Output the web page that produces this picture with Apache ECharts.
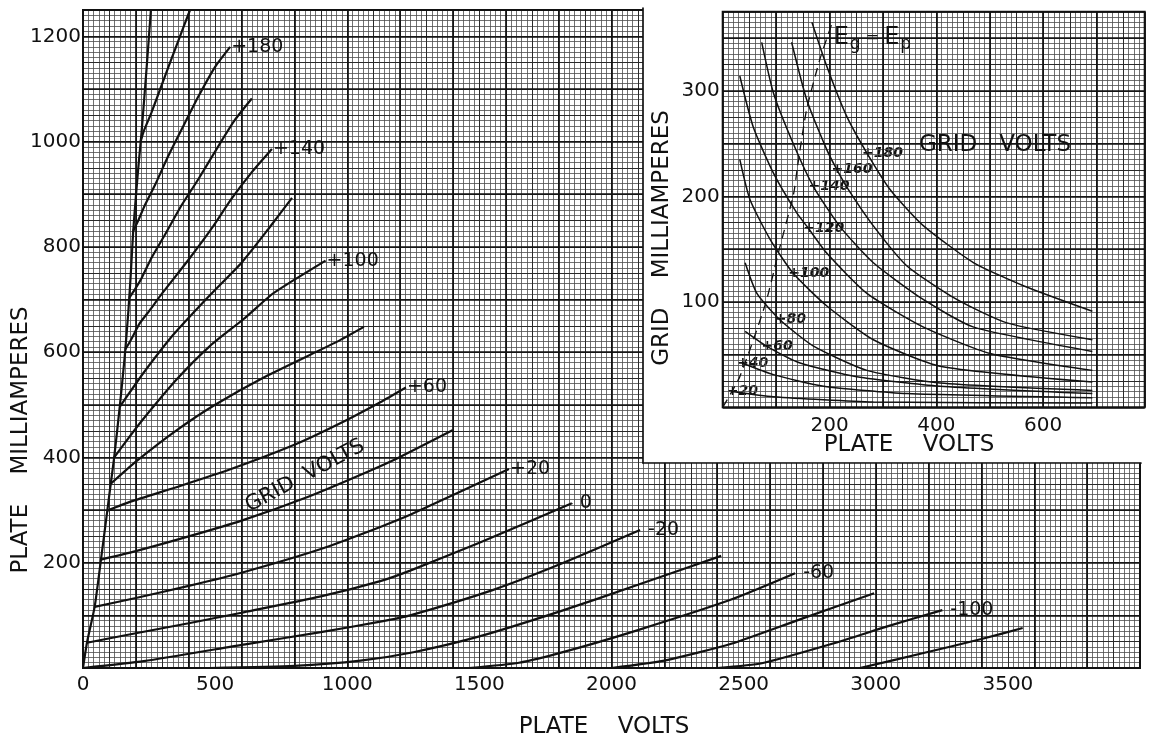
<!DOCTYPE html>
<html>
<head>
<meta charset="utf-8">
<title>Plate characteristics</title>
<script src="https://cdn.jsdelivr.net/npm/echarts@6.0.0/dist/echarts.min.js"></script>
<style>
  html, body { margin: 0; padding: 0; background: #fff; }
  #chart { width: 1149px; height: 738px; }
</style>
</head>
<body>
<div id="chart"></div>
<script>
// main sheet: [plate volts, plate milliamperes]
const locus = [[0,0],[15,48],[44,116],[68,206],[92,299],[105,350],[118,400],[139,496],[158,592],[172,680],[181,750],[190,830],[200,895],[211,960],[222,1020],[241,1142],[257,1250]];
const eg200 = [[218,1000],[230,1020],[259,1055],[310,1124],[361,1192],[405,1250]];
const eg180 = [[190,830],[209,850],[234,879],[272,917],[323,973],[373,1023],[437,1086],[500,1142],[557,1180]];
const eg160 = [[175,703],[200,722],[222,741],[259,779],[310,823],[373,879],[437,929],[513,992],[576,1042],[639,1082]];
const eg140 = [[160,605],[180,622],[215,655],[253,680],[300,712],[400,776],[487,835],[563,892],[639,942],[715,986]];
const eg120 = [[139,496],[165,515],[228,560],[340,632],[480,708],[600,770],[700,833],[791,893]];
const eg100 = [[118,400],[165,432],[228,473],[354,548],[481,612],[608,663],[715,710],[785,733],[918,774]];
const eg80 = [[105,350],[200,392],[350,450],[500,500],[700,556],[962,620],[1063,648]];
const eg60 = [[92,299],[180,316],[350,343],[550,376],[800,424],[962,462],[1125,505],[1222,533]];
const eg40 = [[68,206],[200,222],[400,250],[600,280],[850,325],[1073,372],[1200,401],[1400,452]];
const eg20 = [[44,116],[200,133],[400,156],[600,181],[900,226],[1125,268],[1238,291],[1612,378]];
const eg0 = [[15,48],[200,66],[400,85],[600,105],[900,136],[1125,165],[1238,185],[1500,238],[1850,313]];
const egm20 = [[0,0],[230,13],[614,45],[900,68],[1125,88],[1238,100],[1550,148],[1800,196],[2108,262]];
const egm40 = [[480,0],[800,4],[1050,14],[1250,30],[1500,60],[1808,108],[2100,158],[2415,213]];
const egm60 = [[1460,0],[1650,10],[1830,32],[2100,72],[2453,130],[2695,180]];
const egm80 = [[2000,0],[2200,14],[2453,46],[2700,90],[2994,142]];
const egm100 = [[2400,0],[2569,9],[2835,46],[3050,80],[3252,110]];
const egm120 = [[2940,0],[3177,28],[3400,55],[3556,76]];
const mainLabeled = ['+180', '+140', '+100', '+60', '+20', '0', '-20', '-60', '-100'];

// inset: [plate volts, grid milliamperes]
const ieq = [[0,0],[32,29],[80,98],[105,148],[133,203],[140,228],[157,282],[182,330],[204,363]];
const i180 = [[167,365],[195,323],[232,276],[270,241],[314,206],[376,172],[470,137],[564,115],[692,91]];
const i160 = [[129,346],[157,292],[195,244],[213,226],[232,209],[282,172],[345,134],[439,102],[532,80],[692,64]];
const i140 = [[73,346],[95,298],[132,250],[170,209],[220,171],[282,137],[376,102],[470,76],[692,53]];
const i120 = [[32,314],[57,266],[95,222],[139,184],[160,170],[195,146],[270,108],[376,76],[501,51],[692,35]];
const i100 = [[32,235],[51,197],[89,159],[132,127],[195,96],[282,64],[407,39],[692,24]];
const i80 = [[42,137],[64,108],[107,83],[170,58],[270,35],[407,23],[692,16]];
const i60 = [[42,72],[82,58],[145,42],[251,29],[407,20],[692,13]];
const i40 = [[36,42],[95,31],[189,20],[345,13],[692,9]];
const i20 = [[17,15],[95,10],[282,5],[692,4]];

const FONT = 'DejaVu Sans';
const INK = '#111';
const fine = { color: '#4d4d4d', width: 0.8 };
const med = { color: '#2a2a2a', width: 1 };
const heavy = { color: '#111', width: 1.7 };

const mainRect = { left: 83, top: 10, right: 9, bottom: 70 };
const insetRect = { left: 722.7, top: 11.7, right: 4.3, bottom: 330.7 };

function paperAxis(gridIndex, max, interval, line, z) {
  return {
    type: 'value', gridIndex, min: 0, max, interval, z,
    axisLine: { show: false }, axisTick: { show: false }, axisLabel: { show: false },
    splitLine: { show: true, lineStyle: line }
  };
}
function labelAxis(gridIndex, max, interval, margin, z) {
  return {
    type: 'value', gridIndex, min: 0, max, interval, z,
    axisLine: { show: false }, axisTick: { show: false }, splitLine: { show: false },
    axisLabel: {
      margin, color: INK, fontSize: 20, fontFamily: FONT, showMaxLabel: false,
      formatter: v => String(v)
    }
  };
}
function bareAxis(gridIndex, pos, z) {
  return {
    type: 'value', gridIndex, min: 0, max: 1, position: pos, z,
    axisLine: { show: true, lineStyle: { color: INK, width: 1.7 } },
    axisTick: { show: false }, axisLabel: { show: false }, splitLine: { show: false }
  };
}

const grids = [
  Object.assign({ show: true, backgroundColor: 'transparent', borderColor: INK, borderWidth: 2, z: 3 }, mainRect),
  Object.assign({ z: 0 }, mainRect),
  Object.assign({ z: 1 }, mainRect),
  Object.assign({ z: 2 }, mainRect),
  { left: 643, top: 8, right: 8, bottom: 275.3, show: true, backgroundColor: '#fff', borderWidth: 0, z: 4 },
  Object.assign({ show: true, backgroundColor: 'transparent', borderColor: INK, borderWidth: 2, z: 9 }, insetRect),
  Object.assign({ z: 6 }, insetRect),
  Object.assign({ z: 7 }, insetRect),
  Object.assign({ z: 8 }, insetRect)
].map(g => Object.assign({ outerBoundsMode: 'none' }, g));

const xMain = labelAxis(0, 4000, 500, 7, 3);
xMain.axisLabel.showMinLabel = true;
const yMain = labelAxis(0, 1250, 200, 2, 3);
yMain.axisLabel.showMinLabel = false;
const xIn = labelAxis(5, 790, 200, 8, 9);
xIn.axisLabel.showMinLabel = false;
const yIn = labelAxis(5, 375, 100, 3, 9);
yIn.axisLabel.showMinLabel = false;

const xAxes = [
  xMain,
  paperAxis(1, 4000, 20, fine, 0),
  paperAxis(2, 4000, 100, med, 1),
  paperAxis(3, 4000, 200, heavy, 2),
  bareAxis(4, 'bottom', 5),
  xIn,
  paperAxis(6, 790, 10, fine, 6),
  paperAxis(7, 790, 50, med, 7),
  paperAxis(8, 790, 100, heavy, 8)
];
const yAxes = [
  yMain,
  paperAxis(1, 1250, 10, fine, 0),
  paperAxis(2, 1250, 50, med, 1),
  paperAxis(3, 1250, 100, heavy, 2),
  bareAxis(4, 'left', 5),
  yIn,
  paperAxis(6, 375, 5, fine, 6),
  paperAxis(7, 375, 25, med, 7),
  paperAxis(8, 375, 50, heavy, 8)
];

const mainCurves = [
  ['locus', locus], ['+200', eg200], ['+180', eg180], ['+160', eg160], ['+140', eg140],
  ['+120', eg120], ['+100', eg100], ['+80', eg80], ['+60', eg60], ['+40', eg40],
  ['+20', eg20], ['0', eg0], ['-20', egm20], ['-40', egm40], ['-60', egm60],
  ['-80', egm80], ['-100', egm100], ['-120', egm120]
];
// third entry: which point carries the label
const insetCurves = [
  ['+180', i180, 3], ['+160', i160, 3], ['+140', i140, 3], ['+120', i120, 4], ['+100', i100, 3],
  ['+80', i80, 2], ['+60', i60, 1], ['+40', i40, 0], ['+20', i20, 0]
];

const series = [];
mainCurves.forEach(([name, pts]) => {
  const s = {
    type: 'line', name, data: pts, xAxisIndex: 0, yAxisIndex: 0,
    symbol: 'none', showSymbol: false, smooth: 0.2, silent: true, z: 10,
    lineStyle: { color: INK, width: 2.2 }
  };
  if (mainLabeled.includes(name)) {
    s.endLabel = {
      show: true, formatter: name, distance: name[0] === '+' ? 1 : 8,
      color: INK, fontSize: 19, fontFamily: FONT
    };
  }
  series.push(s);
});
insetCurves.forEach(([name, pts, at]) => {
  series.push({
    type: 'line', name: 'g' + name, data: pts, xAxisIndex: 5, yAxisIndex: 5,
    symbol: 'none', showSymbol: false, smooth: 0.2, silent: true, z: 11,
    lineStyle: { color: INK, width: 1.5 },
    markPoint: {
      symbol: 'circle', symbolSize: 0, silent: true,
      data: [{ coord: pts[at] }],
      label: {
        show: true, formatter: name, position: 'inside', align: 'left', verticalAlign: 'middle',
        offset: [-5, 0], color: INK, fontSize: 14, fontWeight: 'bold', fontStyle: 'italic', fontFamily: FONT
      }
    }
  });
});
series.push({
  type: 'line', name: 'Eg=Ep', data: ieq, xAxisIndex: 5, yAxisIndex: 5,
  symbol: 'none', showSymbol: false, smooth: 0.2, silent: true, z: 11,
  lineStyle: { color: INK, width: 1.3, type: [9, 6] },
  endLabel: {
    show: true, distance: 2, offset: [0, 13], color: INK, fontFamily: FONT,
    formatter: '{e|E}{s|g}{q| = }{e|E}{s|p}',
    rich: {
      e: { fontSize: 24, fontFamily: FONT, color: INK },
      s: { fontSize: 17, fontFamily: FONT, color: INK, padding: [14, 0, 0, 1] },
      q: { fontSize: 16, fontFamily: FONT, color: INK }
    }
  }
});

function txt(text, x, y, size, rot) {
  return {
    type: 'text', x, y, rotation: rot || 0, z: 12, silent: true,
    style: {
      text, fontSize: size, fontFamily: FONT, fill: INK,
      align: 'center', verticalAlign: 'middle', textAlign: 'center', textVerticalAlign: 'middle'
    }
  };
}

const chart = echarts.init(document.getElementById('chart'), null, { renderer: 'canvas' });
chart.setOption({
  animation: false,
  backgroundColor: '#fff',
  grid: grids,
  xAxis: xAxes,
  yAxis: yAxes,
  series,
  graphic: [
    txt('PLATE    VOLTS', 604, 727, 23),
    txt('PLATE    MILLIAMPERES', 21, 440, 23, Math.PI / 2),
    txt('GRID  VOLTS', 305, 476, 21, 0.494),
    txt('PLATE    VOLTS', 909, 445, 23),
    txt('GRID    MILLIAMPERES', 662, 238, 23, Math.PI / 2),
    txt('GRID   VOLTS', 995, 145, 23)
  ]
});
</script>
</body>
</html>
